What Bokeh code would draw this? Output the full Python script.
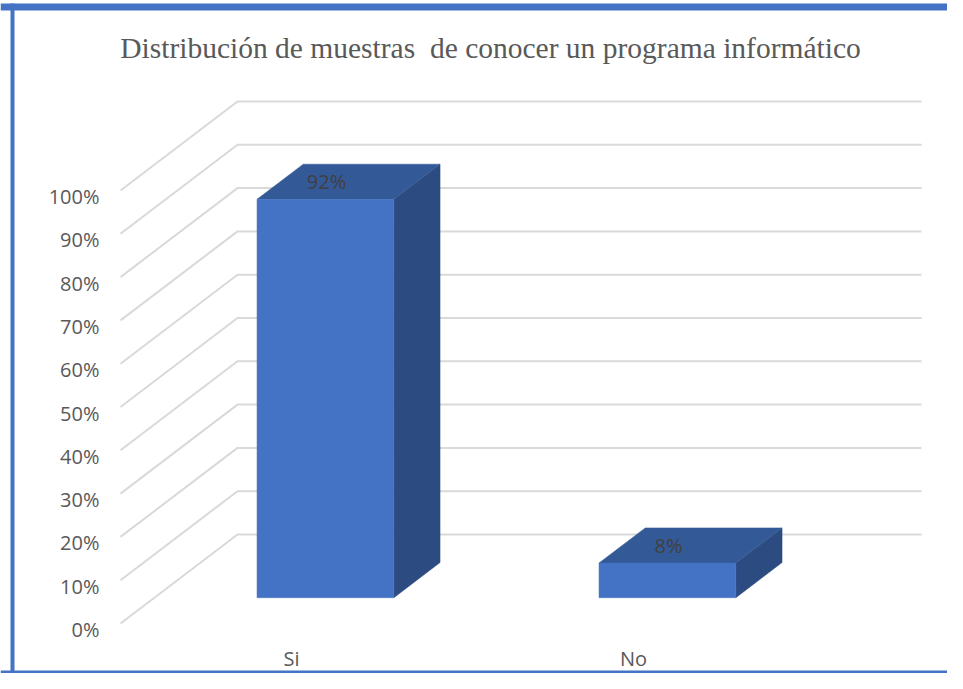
from bokeh.plotting import figure
from bokeh.models import Range1d
from bokeh.core.properties import value
from bokeh.embed import file_html
from bokeh.resources import INLINE

# ---- data ----
categories = ["Si", "No"]
values = [0.92, 0.08]
value_labels = ["92%", "8%"]
tick_values = [0.0, 0.1, 0.2, 0.3, 0.4, 0.5, 0.6, 0.7, 0.8, 0.9, 1.0]
tick_labels = ["0%", "10%", "20%", "30%", "40%", "50%", "60%", "70%", "80%", "90%", "100%"]
title_text = "Distribución de muestras \u00a0de conocer un programa informático"

# ---- geometry (styles) ----
W, H = 947, 673
X0, XS = 120.0, 342.0      # px of category axis origin, px per category
Y0, YS = 623.0, 433.0      # px of value 0 (front), px per unit value
DX = 117.0 / XS            # depth offset in x units
DY = 89.0 / YS             # depth offset in value units
D0, D1 = 0.29, 0.685       # bar depth extent
BW = 0.40                  # bar width (category units)

def px2x(px):
    return (px - X0) / XS

def py2v(py):
    return (Y0 - py) / YS

FRONT = "#4472C4"
TOP = "#335A97"
SIDE = "#2C4B80"
GRID = "#D9D9D9"
TXT = "#595959"

p = figure(width=W, height=H, output_backend="svg", toolbar_location=None,
           x_range=Range1d(px2x(0), px2x(W)),
           y_range=Range1d(py2v(H), py2v(0)),
           min_border=0, min_border_left=0, min_border_right=0,
           min_border_top=0, min_border_bottom=0)
p.xaxis.visible = False
p.yaxis.visible = False
p.xgrid.visible = False
p.ygrid.visible = False
p.outline_line_color = None
p.background_fill_color = "white"
p.border_fill_color = "white"

ncat = len(categories)

# gridlines: left wall diagonals + back wall horizontals
xs_g, ys_g = [], []
for t in tick_values:
    xs_g.append([0.0, DX, ncat + DX])
    ys_g.append([t, t + DY, t + DY])
p.multi_line(xs_g, ys_g, line_color=GRID, line_width=2)

# tick labels
p.text(x=[0.0] * len(tick_values), y=tick_values, text=tick_labels,
       x_offset=-21, y_offset=6, text_align="right", text_baseline="middle",
       text_font=value("Open Sans"), text_font_size="20px", text_color=TXT)

# bars (3D)
fx, fy, tx, ty, sx, sy = [], [], [], [], [], []
lab_x, lab_y = [], []
dd = D1 - D0
for i, v in enumerate(values):
    cx = i + 0.5 + D0 * DX
    xl, xr = cx - BW / 2, cx + BW / 2
    bot = D0 * DY
    top = v + D0 * DY
    fx.append([xl, xr, xr, xl]); fy.append([bot, bot, top, top])
    tx.append([xl, xr, xr + dd * DX, xl + dd * DX]); ty.append([top, top, top + dd * DY, top + dd * DY])
    sx.append([xr, xr + dd * DX, xr + dd * DX, xr]); sy.append([bot, bot + dd * DY, top + dd * DY, top])
    lab_x.append(cx + dd * DX / 2)
    lab_y.append(top + dd * DY / 2)

p.patches(sx, sy, fill_color=SIDE, line_color=SIDE, line_width=0.5)
p.patches(tx, ty, fill_color=TOP, line_color=TOP, line_width=0.5)
p.patches(fx, fy, fill_color=FRONT, line_color=FRONT, line_width=0.5)

# data labels
p.text(x=lab_x, y=lab_y, text=value_labels, x_offset=-22, y_offset=0,
       text_align="center", text_baseline="middle",
       text_font=value("Open Sans"), text_font_size="20px", text_color="#404040")

# category labels
p.text(x=[i + 0.5 for i in range(ncat)], y=[0.0] * ncat, text=categories,
       y_offset=35, text_align="center", text_baseline="middle",
       text_font=value("Open Sans"), text_font_size="20px", text_color=TXT)

# title
p.text(x=[px2x(490)], y=[py2v(47)], text=[title_text],
       text_align="center", text_baseline="middle",
       text_font=value("Liberation Serif"), text_font_size="29.5px", text_color=TXT)

# border (decoration)
BLUE = "#4472C4"
p.quad(left=[px2x(0), px2x(10), px2x(0)], right=[px2x(W), px2x(14), px2x(W)],
       top=[py2v(3), py2v(3), py2v(670)], bottom=[py2v(10), py2v(H), py2v(H)],
       fill_color=BLUE, line_color=None)

open("out.html", "w").write(file_html(p, INLINE))
